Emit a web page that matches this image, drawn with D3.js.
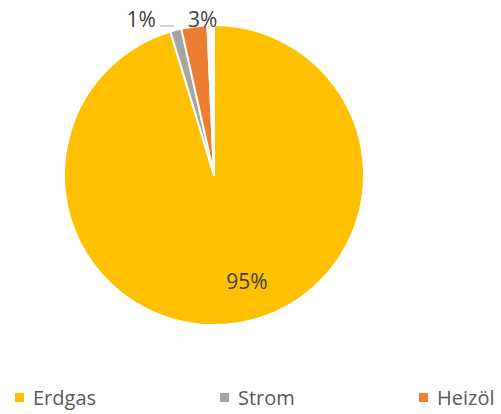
<!DOCTYPE html>
<html>
<head>
<meta charset="utf-8">
<script src="https://cdn.jsdelivr.net/npm/d3@7"></script>
<style>
  html, body { margin: 0; padding: 0; background: #fff; }
  svg { display: block; }
  text { font-family: "Open Sans", sans-serif; }
</style>
</head>
<body>
<svg id="chart" width="501" height="414"></svg>
<script>
// Data
const categories = ["Erdgas", "Strom", "Heizöl", ""];
const values = [95.3, 1.2, 2.8, 0.7];
const colors = ["#FFC000", "#A5A5A5", "#ED7D31", "#FFFFFF"];
const legendCategories = ["Erdgas", "Strom", "Heizöl"];

const W = 501, H = 414;
const cx = 214, cy = 175, R = 150;

const svg = d3.select("#chart");
const total = d3.sum(values);
const data = categories.map((c, i) => ({ name: c, value: values[i], color: colors[i] }));

const pie = d3.pie().sort(null).value(d => d.value).startAngle(0).endAngle(2 * Math.PI);
const arcs = pie(data);
const arc = d3.arc().innerRadius(0).outerRadius(R);

const g = svg.append("g").attr("transform", `translate(${cx},${cy})`);
g.selectAll("path.slice")
  .data(arcs)
  .join("path")
  .attr("class", "slice")
  .attr("d", arc)
  .attr("fill", d => d.data.color)
  .attr("stroke", "#fff")
  .attr("stroke-width", 2)
  .attr("stroke-linejoin", "round");

const pct = d => Math.round(d.data.value / total * 100) + "%";
const FS = 21;

// Erdgas: inside
{
  const d = arcs[0];
  const inArc = d3.arc().innerRadius(R * 0.72).outerRadius(R * 0.72);
  const [x, y] = inArc.centroid(d);
  g.append("text").attr("x", x + 17).attr("y", y + 7)
    .attr("text-anchor", "middle")
    .attr("font-size", FS).attr("fill", "#404040").text(pct(d));
}
// Heizöl: just outside the rim
{
  const d = arcs[2];
  const ang = (d.startAngle + d.endAngle) / 2;
  const x = R * Math.sin(ang), y = -R * Math.cos(ang);
  g.append("text").attr("x", x + 8.5).attr("y", y + 0.5)
    .attr("text-anchor", "middle")
    .attr("font-size", FS).attr("fill", "#404040").text(pct(d));
}
// Strom: label left with leader line
{
  const d = arcs[1];
  const ang = (d.startAngle + d.endAngle) / 2;
  const px = R * Math.sin(ang);
  const ly = -149;
  g.append("line")
    .attr("x1", px - 2).attr("y1", ly)
    .attr("x2", px - 16).attr("y2", ly)
    .attr("stroke", "#A6A6A6").attr("stroke-width", 1);
  g.append("text").attr("x", px - 20).attr("y", ly + 1)
    .attr("text-anchor", "end")
    .attr("font-size", FS).attr("fill", "#404040").text(pct(d));
}

// Legend
const legendX = [15, 220, 419];
const legendY = 393;
const lg = svg.append("g");
legendCategories.forEach((c, i) => {
  const idx = categories.indexOf(c);
  lg.append("rect").attr("x", legendX[i]).attr("y", legendY)
    .attr("width", 9).attr("height", 9).attr("fill", colors[idx]);
  lg.append("text").attr("x", legendX[i] + 18).attr("y", legendY + 12)
    .attr("font-size", 20).attr("fill", "#595959").text(c);
});
</script>
</body>
</html>
